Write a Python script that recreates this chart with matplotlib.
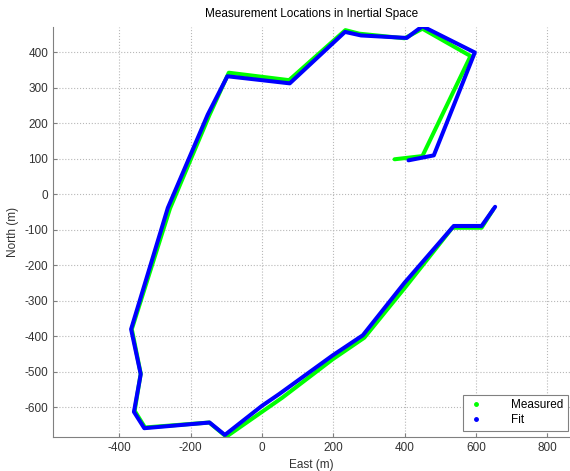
import matplotlib.pyplot as plt
from matplotlib.lines import Line2D

plt.rcParams['font.family'] = ['Liberation Sans', 'DejaVu Sans']
plt.rcParams['font.size'] = 8.5
plt.rcParams['axes.unicode_minus'] = False

# measured track (east, north) in metres
meas_east = [372, 450, 585, 450, 400, 273, 234, 76, -93, -148, -258, -365, -340,
             -357, -328, -148, -100, 57, 198, 287, 405, 534, 616, 649]
meas_north = [99, 108, 390, 467, 440, 453, 463, 322, 343, 222, -40, -380, -505,
              -610, -657, -643, -683, -573, -465, -404, -258, -94, -94, -42]

# fitted track
fit_east = [411, 482, 597, 450, 406, 278, 233, 78, -97, -152, -264, -367, -340,
            -359, -330, -147, -104, 0, 48, 198, 283, 400, 538, 616, 654]
fit_north = [96, 110, 400, 474, 441, 448, 458, 313, 333, 225, -38, -380, -507,
             -613, -659, -643, -678, -596, -563, -454, -397, -249, -89, -89, -35]

xticks = [-400, -200, 0, 200, 400, 600, 800]
yticks = [-600, -500, -400, -300, -200, -100, 0, 100, 200, 300, 400]

fig = plt.figure(figsize=(5.70, 4.71), dpi=100)
ax = fig.add_axes([0.093, 0.0728, 0.907, 0.870])

ax.plot(meas_east, meas_north, '-', color='#00ff00', linewidth=2.9,
        solid_joinstyle='round', solid_capstyle='round')
ax.plot(fit_east, fit_north, '-', color='#0000ff', linewidth=2.9,
        solid_joinstyle='round', solid_capstyle='round')

ax.set_xlim(-586, 864)
ax.set_ylim(-683, 472)
ax.set_xticks(xticks)
ax.set_yticks(yticks)
ax.grid(True, linestyle=':', color='#b8b8b8', linewidth=0.8)
ax.set_axisbelow(True)
for s in ['top', 'right']:
    ax.spines[s].set_visible(False)
for s in ['left', 'bottom']:
    ax.spines[s].set_color('#808080')
ax.tick_params(direction='in', length=3, colors='#808080', labelcolor='#333333')

ax.set_title('Measurement Locations in Inertial Space', fontsize=8.5, pad=7)
ax.set_xlabel('East (m)', color='#333333')
ax.set_ylabel('North (m)', color='#333333')

handles = [Line2D([], [], linestyle='none', marker='.', markersize=5, color='#00ff00'),
           Line2D([], [], linestyle='none', marker='.', markersize=5, color='#0000ff')]
leg = ax.legend(handles, ['Measured', 'Fit'], loc='lower right',
                bbox_to_anchor=(0.996, 0.014), borderaxespad=0, fancybox=False,
                framealpha=1, edgecolor='#808080', handletextpad=2.2,
                handlelength=1.5, borderpad=0.4, labelspacing=0.25)
leg.get_frame().set_linewidth(0.8)

fig.savefig('out.png', dpi=100)
